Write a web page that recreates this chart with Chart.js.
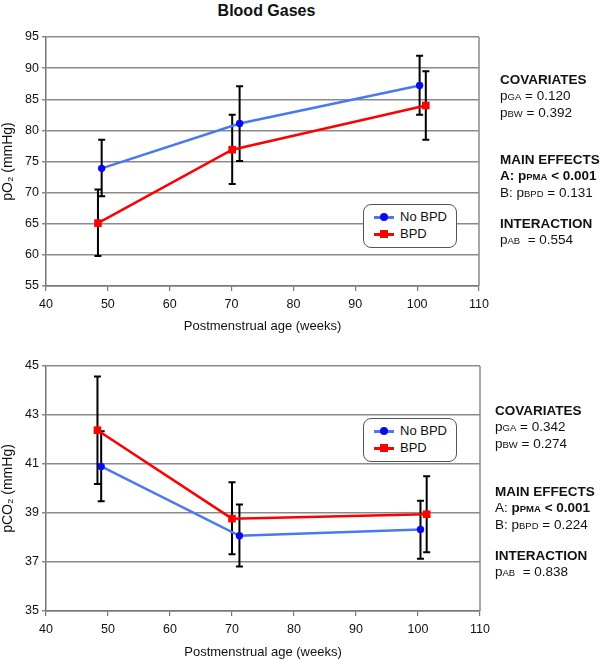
<!DOCTYPE html>
<html><head><meta charset="utf-8">
<script src="https://cdn.jsdelivr.net/npm/chart.js@4"></script>
<style>
html,body{margin:0;padding:0;background:#fff;}
body{width:600px;height:660px;position:relative;overflow:hidden;font-family:"Liberation Sans",Arial,sans-serif;color:#111;}
#title{position:absolute;left:0;width:533px;top:2px;text-align:center;font-weight:bold;font-size:16px;}
canvas{position:absolute;left:0;}
.panel{position:absolute;font-size:13.5px;line-height:16px;}
.panel b{font-weight:bold;}
.s{font-size:9.5px;}
.legend{position:absolute;border:1px solid #555;border-radius:8px;background:#fff;width:92px;height:42px;font-size:13px;}
.li{position:absolute;left:10px;height:14px;width:80px;}
.li .ln{position:absolute;left:0;top:6px;width:20px;height:2.5px;}
.li .mk{position:absolute;}
.li .tx{position:absolute;left:26px;top:-1px;}
</style></head>
<body>
<div id="title">Blood Gases</div>
<canvas id="c1" width="600" height="338" style="top:0;width:600px;height:338px"></canvas>
<canvas id="c2" width="600" height="322" style="top:338px;width:600px;height:322px"></canvas>

<div class="legend" style="left:363px;top:204px">
  <div class="li" style="top:5px"><div class="ln" style="background:#4a78f0"></div><div class="mk" style="left:6px;top:3px;width:8px;height:8px;border-radius:50%;background:#0a0aee"></div><div class="tx">No BPD</div></div>
  <div class="li" style="top:22px"><div class="ln" style="background:#ff0000"></div><div class="mk" style="left:6px;top:3px;width:8px;height:8px;background:#ff0000"></div><div class="tx">BPD</div></div>
</div>
<div class="legend" style="left:363px;top:418px">
  <div class="li" style="top:5px"><div class="ln" style="background:#4a78f0"></div><div class="mk" style="left:6px;top:3px;width:8px;height:8px;border-radius:50%;background:#0a0aee"></div><div class="tx">No BPD</div></div>
  <div class="li" style="top:22px"><div class="ln" style="background:#ff0000"></div><div class="mk" style="left:6px;top:3px;width:8px;height:8px;background:#ff0000"></div><div class="tx">BPD</div></div>
</div>

<div class="panel" style="left:500px;top:72px"><b>COVARIATES</b><br>p<span class="s">GA</span> = 0.120<br>p<span class="s">BW</span> = 0.392</div>
<div class="panel" style="left:500px;top:152px"><b>MAIN EFFECTS</b><br><b>A: p<span class="s">PMA</span> &lt; 0.001</b><br>B: p<span class="s">BPD</span> = 0.131</div>
<div class="panel" style="left:500px;top:216px"><b>INTERACTION</b><br>p<span class="s">AB</span> &nbsp;= 0.554</div>

<div class="panel" style="left:495px;top:403px"><b>COVARIATES</b><br>p<span class="s">GA</span> = 0.342<br>p<span class="s">BW</span> = 0.274</div>
<div class="panel" style="left:495px;top:484px"><b>MAIN EFFECTS</b><br>A: <b>p<span class="s">PMA</span> &lt; 0.001</b><br>B: p<span class="s">BPD</span> = 0.224</div>
<div class="panel" style="left:495px;top:548px"><b>INTERACTION</b><br>p<span class="s">AB</span> &nbsp;= 0.838</div>

<script>
// ---- Data ----
const pO2_noBPD_x  = [49.0, 71.3, 100.4];
const pO2_noBPD    = [73.9, 81.1, 87.2];
const pO2_noBPD_hi = [78.5, 87.1, 92.0];
const pO2_noBPD_lo = [69.4, 75.1, 82.5];
const pO2_BPD_x    = [48.4, 70.1, 101.4];
const pO2_BPD      = [65.1, 76.9, 84.0];
const pO2_BPD_hi   = [70.5, 82.5, 89.5];
const pO2_BPD_lo   = [59.8, 71.4, 78.5];

const pCO2_noBPD_x  = [48.9, 71.2, 100.4];
const pCO2_noBPD    = [40.90, 38.07, 38.33];
const pCO2_noBPD_hi = [42.34, 39.35, 39.50];
const pCO2_noBPD_lo = [39.48, 36.82, 37.13];
const pCO2_BPD_x    = [48.3, 70.0, 101.4];
const pCO2_BPD      = [42.38, 38.77, 38.95];
const pCO2_BPD_hi   = [44.57, 40.26, 40.50];
const pCO2_BPD_lo   = [40.18, 37.32, 37.40];

const xTicksMin = 40, xTicksMax = 110, xStep = 10;
const seriesNames = ['No BPD', 'BPD'];

function pts(xs, ys){ return xs.map((x,i)=>({x:x, y:ys[i]})); }

const errorBars = {
  id:'errorBars',
  beforeDatasetsDraw(chart){
    const ctx = chart.ctx, xs = chart.scales.x, ys = chart.scales.y;
    ctx.save();
    ctx.strokeStyle = '#000'; ctx.lineWidth = 2;
    chart.data.datasets.forEach(ds=>{
      ds.data.forEach((p,i)=>{
        const px = xs.getPixelForValue(p.x);
        const top = ys.getPixelForValue(ds.errHi[i]);
        const bot = ys.getPixelForValue(ds.errLo[i]);
        ctx.beginPath();
        ctx.moveTo(px, top); ctx.lineTo(px, bot);
        ctx.moveTo(px-3.5, top); ctx.lineTo(px+3.5, top);
        ctx.moveTo(px-3.5, bot); ctx.lineTo(px+3.5, bot);
        ctx.stroke();
      });
    });
    ctx.restore();
  }
};
const frame = {
  id:'frame',
  beforeDatasetsDraw(chart){
    const a = chart.chartArea, ctx = chart.ctx;
    ctx.save(); ctx.strokeStyle = '#8a8a8a'; ctx.lineWidth = 1.5;
    ctx.beginPath(); ctx.moveTo(Math.round(a.right), a.top); ctx.lineTo(Math.round(a.right), a.bottom); ctx.stroke();
    ctx.restore();
  }
};

function makeChart(id, cfg){
  return new Chart(document.getElementById(id), {
    type:'line',
    data:{datasets:[
      {label:seriesNames[0], data:pts(cfg.nx, cfg.ny), errHi:cfg.nhi, errLo:cfg.nlo,
       borderColor:'#4a78f0', backgroundColor:'#0a0aee', pointBackgroundColor:'#0a0aee', pointBorderColor:'#0a0aee',
       borderWidth:2.5, pointRadius:3.7, pointBorderWidth:0, pointStyle:'circle', tension:0},
      {label:seriesNames[1], data:pts(cfg.bx, cfg.by), errHi:cfg.bhi, errLo:cfg.blo,
       borderColor:'#ff0000', backgroundColor:'#ff0000', pointBackgroundColor:'#ff0000', pointBorderColor:'#ff0000',
       borderWidth:2.5, pointRadius:5.4, pointBorderWidth:0, pointStyle:'rect', tension:0}
    ]},
    options:{
      responsive:false, animation:false, devicePixelRatio:1,
      layout:{padding:{left:0, right:cfg.padRight, top:cfg.padTop, bottom:0}},
      plugins:{legend:{display:false}, tooltip:{enabled:false}, title:{display:false}},
      scales:{
        x:{type:'linear', min:xTicksMin, max:xTicksMax,
           ticks:{stepSize:xStep, color:'#111', font:{family:'Liberation Sans', size:12.5}, padding:cfg.xTickPad, maxRotation:0},
           grid:{drawOnChartArea:false, drawTicks:true, tickLength:5, color:'#777', lineWidth:1.2},
           border:{color:'#777', width:1.5},
           title:{display:true, text:'Postmenstrual age (weeks)', color:'#111', font:{family:'Liberation Sans', size:13}, padding:{top:0,bottom:cfg.xTitlePad}},
           afterFit(s){ s.height = cfg.xHeight; }
        },
        y:{min:cfg.ymin, max:cfg.ymax,
           ticks:{stepSize:cfg.ystep, color:'#111', font:{family:'Liberation Sans', size:12.5}, padding:3},
           grid:{color:'#8a8a8a', lineWidth:1.5, tickLength:4, drawTicks:true},
           border:{color:'#777', width:1.5},
           title:{display:true, text:cfg.ytitle, color:'#111', font:{family:'Liberation Sans', size:14}, padding:{top:0,bottom:0}},
           afterFit(s){ s.width = 46; }
        }
      }
    },
    plugins:[frame, errorBars]
  });
}

makeChart('c1', {nx:pO2_noBPD_x, ny:pO2_noBPD, nhi:pO2_noBPD_hi, nlo:pO2_noBPD_lo,
  bx:pO2_BPD_x, by:pO2_BPD, bhi:pO2_BPD_hi, blo:pO2_BPD_lo,
  ymin:55, ymax:95, ystep:5, ytitle:'pO\u2082 (mmHg)', padTop:37, padRight:121, xHeight:52, xTickPad:6, xTitlePad:4});
makeChart('c2', {nx:pCO2_noBPD_x, ny:pCO2_noBPD, nhi:pCO2_noBPD_hi, nlo:pCO2_noBPD_lo,
  bx:pCO2_BPD_x, by:pCO2_BPD, bhi:pCO2_BPD_hi, blo:pCO2_BPD_lo,
  ymin:35, ymax:45, ystep:2, ytitle:'pCO\u2082 (mmHg)', padTop:28, padRight:120, xHeight:49, xTickPad:6, xTitlePad:0});
</script>
</body></html>
